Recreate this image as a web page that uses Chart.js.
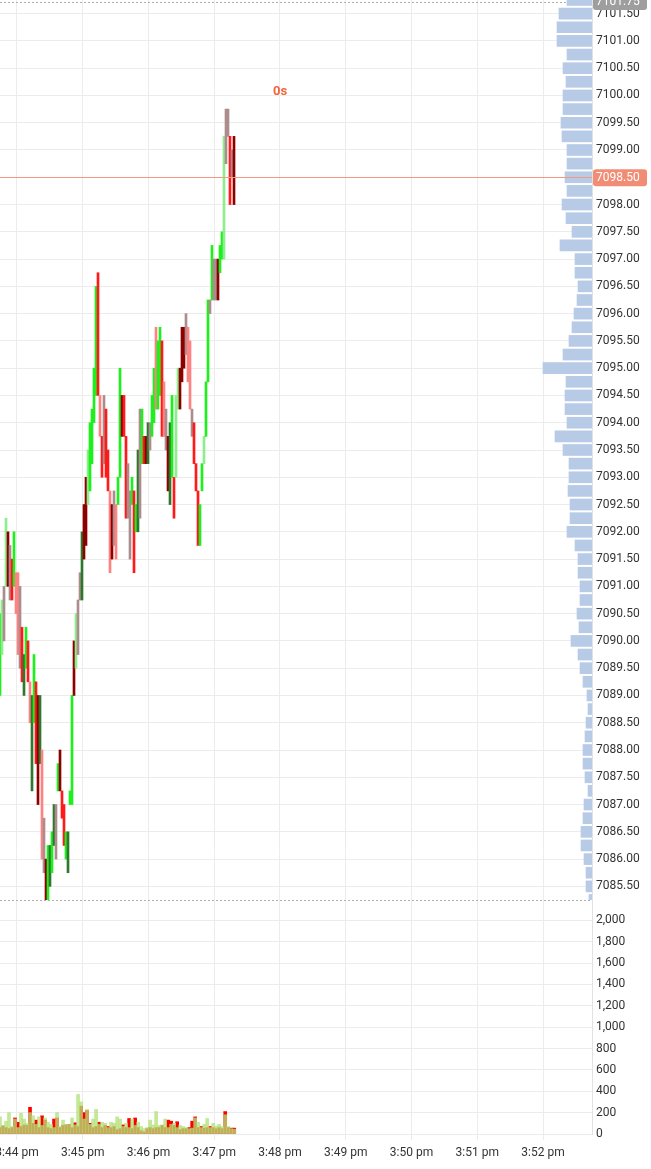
<!DOCTYPE html>
<html lang="en">
<head>
<meta charset="UTF-8">
<title>Tick chart</title>
<script src="https://cdn.jsdelivr.net/npm/chart.js"></script>
<style>
  html, body { margin: 0; padding: 0; background: #fff; }
  .wrap { width: 651px; height: 1169px; position: relative; }
</style>
</head>
<body>
<div class="wrap"><canvas id="chart"></canvas></div>
<script>
// times are seconds after 3:44:00 pm
const startSec = -15.5;
const candleStep = 1.825;
const volStep = 2.74;
const xMin = -15.5, xMax = 524.7;
const timeTicks = [0, 60, 120, 180, 240, 300, 360, 420, 480];

const priceMin = 7085.25, priceMax = 7101.75;
const lastPrice = 7098.50;
const volMax = 2190;
const volTicks = [0, 200, 400, 600, 800, 1000, 1200, 1400, 1600, 1800, 2000];

// candle lows / highs, one per tick bar
const lows = [
  7089.00, 7089.75, 7090.00, 7091.00, 7091.00, 7090.75, 7090.75, 7091.00, 7090.50, 7089.75,
  7089.50, 7089.25, 7089.00, 7089.50, 7089.25, 7088.50, 7087.25, 7088.50, 7087.75, 7087.00,
  7087.75, 7086.00, 7085.75, 7085.25, 7085.25, 7085.50, 7085.75, 7086.25, 7086.00, 7087.25,
  7087.25, 7086.75, 7086.25, 7086.00, 7085.75, 7087.00, 7087.00, 7089.00, 7089.50, 7089.75,
  7090.75, 7090.75, 7091.50, 7091.75, 7092.50, 7092.75, 7093.25, 7094.00, 7094.50, 7094.50,
  7093.75, 7093.00, 7093.25, 7093.00, 7092.75, 7091.25, 7091.50, 7091.75, 7091.50, 7092.50,
  7093.00, 7093.75, 7093.75, 7092.25, 7092.25, 7091.50, 7092.50, 7091.25, 7092.00, 7092.00,
  7092.25, 7093.25, 7093.25, 7093.25, 7093.25, 7093.50, 7093.75, 7094.00, 7094.25, 7094.25,
  7094.50, 7093.75, 7093.75, 7093.50, 7092.75, 7092.50, 7093.00, 7092.25, 7093.00, 7094.25,
  7094.25, 7094.75, 7095.00, 7095.25, 7094.75, 7094.25, 7093.75, 7093.25, 7092.75, 7091.75,
  7091.75, 7092.75, 7093.25, 7093.75, 7094.75, 7096.00, 7096.25, 7096.25, 7096.25, 7096.25,
  7096.75, 7097.00, 7097.00, 7098.75, 7099.25, 7098.00, 7098.50, 7098.00
];
const highs = [
  7090.50, 7090.75, 7091.00, 7092.25, 7092.00, 7091.75, 7091.50, 7092.00, 7091.25, 7091.25,
  7091.00, 7090.25, 7089.75, 7090.25, 7090.00, 7089.25, 7089.00, 7089.75, 7089.25, 7089.00,
  7089.00, 7088.00, 7086.75, 7086.00, 7086.25, 7086.25, 7086.50, 7087.00, 7087.00, 7087.75,
  7088.00, 7087.25, 7087.00, 7086.50, 7086.50, 7087.25, 7089.00, 7090.00, 7090.50, 7090.75,
  7091.25, 7092.00, 7092.50, 7093.00, 7093.50, 7094.00, 7094.25, 7095.00, 7096.50, 7096.75,
  7094.50, 7093.75, 7094.50, 7094.25, 7093.50, 7092.75, 7092.50, 7092.75, 7092.50, 7093.00,
  7095.00, 7094.50, 7094.50, 7093.75, 7093.25, 7092.75, 7093.00, 7092.75, 7092.50, 7093.50,
  7094.25, 7094.25, 7093.75, 7093.75, 7094.00, 7094.00, 7094.50, 7095.00, 7095.75, 7095.50,
  7095.75, 7095.50, 7094.75, 7094.25, 7093.75, 7094.00, 7094.50, 7093.00, 7094.50, 7095.00,
  7095.00, 7095.75, 7095.75, 7096.00, 7095.75, 7095.50, 7094.25, 7094.00, 7093.25, 7092.75,
  7092.50, 7093.25, 7093.75, 7094.75, 7096.25, 7096.25, 7097.25, 7097.00, 7097.00, 7097.00,
  7097.25, 7097.50, 7099.25, 7099.75, 7099.75, 7099.25, 7099.00, 7099.25
];
// g bright up, l light up, d dark up, r down, p light down, k dark down, n mixed
const kinds =
  'glnlknrgpp' + 'nrdgrpdgrk' + 'dpnkgdgdng' + 'krrgdggkln' + 'ndkklggggr' +
  'prnrrpknpg' + 'gkrrnngrgd' + 'ngrkdnggpg' + 'grpnkdgrll' + 'kkknppnrrr' +
  'gglggngnnk' + 'gglnnrnk';

// volume below the price pane
const buyVol = [
  160, 80, 120, 200, 70, 140, 60, 195, 140, 100,
  200, 170, 90, 160, 80, 150, 110, 90, 60, 200,
  70, 130, 90, 90, 150, 85, 370, 300, 140, 230,
  90, 140, 230, 90, 110, 100, 60, 110, 100, 160,
  140, 70, 100, 60, 140, 80, 110, 70, 50, 60,
  130, 85, 210, 80, 85, 140, 60, 90, 100, 60,
  80, 70, 60, 50, 55, 150, 110, 60, 90, 145,
  60, 100, 75, 90, 70, 180, 70, 50, 45
];
const sellVol = [
  60, 75, 60, 50, 60, 150, 110, 70, 85, 80,
  250, 100, 130, 60, 170, 130, 60, 50, 140, 150,
  60, 80, 85, 90, 60, 105, 70, 260, 200, 220,
  100, 60, 70, 110, 60, 80, 70, 60, 70, 40,
  50, 85, 60, 145, 50, 150, 60, 30, 20, 50,
  60, 50, 60, 60, 80, 60, 130, 120, 80, 115,
  40, 50, 50, 60, 120, 160, 60, 70, 55, 60,
  70, 60, 50, 60, 50, 210, 60, 55, 55
];

// volume profile, from 7101.75 down in 0.25 steps
const profileTop = 7101.75;
const profileVol = [
  250, 330, 350, 350, 250, 290, 260, 290, 290, 310,
  300, 250, 250, 270, 250, 300, 260, 200, 320, 170,
  170, 140, 150, 180, 200, 230, 290, 490, 260, 270,
  270, 250, 370, 290, 230, 230, 240, 220, 220, 250,
  170, 140, 140, 120, 120, 150, 130, 210, 140, 120,
  90, 50, 40, 60, 70, 90, 90, 70, 40, 80,
  90, 110, 110, 80, 60, 60, 30
];

const palette = {
  g: 'rgb(30,240,30)',
  l: 'rgb(140,238,140)',
  d: 'rgb(45,120,45)',
  r: 'rgb(255,25,25)',
  p: 'rgb(255,130,130)',
  k: 'rgb(140,0,0)',
  n: 'rgb(172,140,140)'
};

const candleTimes = lows.map((_, i) => startSec + i * candleStep);
const volTimes = buyVol.map((_, i) => startSec + i * volStep);
const priceTicks = [];
for (let p = 7085.5; p <= 7101.5; p += 0.5) priceTicks.push(p);

const fmtTime = v => '3:' + String(44 + Math.round(v / 60)).padStart(2, '0') + ' pm';

Chart.defaults.font.family = 'Roboto';
Chart.defaults.font.size = 12;
Chart.defaults.color = '#333';

function roundBox(ctx, x, y, w, h, r) {
  ctx.beginPath();
  ctx.moveTo(x + r, y);
  ctx.lineTo(x + w - r, y);
  ctx.quadraticCurveTo(x + w, y, x + w, y + r);
  ctx.lineTo(x + w, y + h - r);
  ctx.quadraticCurveTo(x + w, y + h, x + w - r, y + h);
  ctx.lineTo(x + r, y + h);
  ctx.quadraticCurveTo(x, y + h, x, y + h - r);
  ctx.lineTo(x, y + r);
  ctx.quadraticCurveTo(x, y, x + r, y);
  ctx.closePath();
}

const overlay = {
  id: 'overlay',
  beforeDatasetsDraw(chart) {
    const {ctx, chartArea} = chart;
    const yP = chart.scales.yPrice;
    ctx.save();
    // dotted pane borders
    ctx.strokeStyle = '#b0b0b0';
    ctx.lineWidth = 1;
    ctx.setLineDash([2, 2]);
    const yb = Math.round(yP.bottom) + 0.5;
    ctx.beginPath();
    ctx.moveTo(chartArea.left, yb);
    ctx.lineTo(chartArea.right, yb);
    ctx.moveTo(chartArea.left, 2.5);
    ctx.lineTo(chartArea.right, 2.5);
    ctx.stroke();
    ctx.restore();
  },
  afterDatasetsDraw(chart) {
    const {ctx, chartArea} = chart;
    const yP = chart.scales.yPrice;
    // last price line
    const yl = Math.round(yP.getPixelForValue(lastPrice)) + 0.5;
    ctx.save();
    ctx.strokeStyle = 'rgb(244,152,128)';
    ctx.lineWidth = 1;
    ctx.beginPath();
    ctx.moveTo(chartArea.left, yl);
    ctx.lineTo(chartArea.right, yl);
    ctx.stroke();
    ctx.restore();
  },
  afterDraw(chart) {
    const {ctx, chartArea} = chart;
    const yP = chart.scales.yPrice;
    const x0 = chartArea.right + 1;
    ctx.save();
    ctx.font = '12px Roboto';
    ctx.textBaseline = 'middle';
    ctx.textAlign = 'left';
    // session high tag
    const yh = 2;
    ctx.fillStyle = '#9e9e9e';
    roundBox(ctx, x0, yh - 8, 54, 16, 3);
    ctx.fill();
    ctx.fillStyle = '#fff';
    ctx.fillText(priceMax.toFixed(2), x0 + 3, yh);
    // last price tag
    const yl = yP.getPixelForValue(lastPrice);
    ctx.fillStyle = '#f28d75';
    roundBox(ctx, x0, yl - 8, 54, 17, 3);
    ctx.fill();
    ctx.fillStyle = '#fff';
    ctx.fillText(lastPrice.toFixed(2), x0 + 3, yl + 0.5);
    // bar countdown
    ctx.font = 'bold 13px Roboto';
    ctx.fillStyle = '#f2643a';
    ctx.textAlign = 'center';
    ctx.fillText('0s', chart.scales.x.getPixelForValue(240), yP.getPixelForValue(7100.0) - 4);
    ctx.restore();
  }
};

new Chart(document.getElementById('chart'), {
  data: {
    datasets: [
      {
        type: 'bar',
        label: 'Price',
        xAxisID: 'x',
        yAxisID: 'yPrice',
        data: lows.map((lo, i) => ({x: candleTimes[i], y: [lo, highs[i]]})),
        backgroundColor: kinds.split('').map(k => palette[k]),
        barThickness: 2,
        grouped: false,
        order: 1
      },
      {
        type: 'bar',
        label: 'Buy volume',
        xAxisID: 'x',
        yAxisID: 'yVol',
        data: buyVol.map((v, i) => ({x: volTimes[i], y: v})),
        backgroundColor: 'rgba(177,225,118,0.77)',
        barThickness: 3,
        grouped: false,
        order: 2
      },
      {
        type: 'bar',
        label: 'Sell volume',
        xAxisID: 'x',
        yAxisID: 'yVol',
        data: sellVol.map((v, i) => ({x: volTimes[i], y: v})),
        backgroundColor: 'rgb(255,0,0)',
        barThickness: 3,
        grouped: false,
        order: 3
      },
      {
        type: 'bar',
        label: 'Volume profile',
        indexAxis: 'y',
        xAxisID: 'xProf',
        yAxisID: 'yPrice',
        data: profileVol.map((v, i) => ({x: v, y: profileTop - i * 0.25})),
        backgroundColor: 'rgb(183,202,230)',
        barThickness: 11,
        grouped: false,
        order: 4
      }
    ]
  },
  options: {
    responsive: true,
    maintainAspectRatio: false,
    animation: false,
    events: [],
    layout: { padding: 0 },
    plugins: { legend: { display: false }, tooltip: { enabled: false } },
    scales: {
      x: {
        type: 'linear',
        position: 'bottom',
        offset: false,
        min: xMin,
        max: xMax,
        afterBuildTicks: s => { s.ticks = timeTicks.map(v => ({value: v})); },
        ticks: {
          autoSkip: false,
          maxRotation: 0,
          padding: 6,
          callback: v => fmtTime(v)
        },
        grid: { color: '#ececec', tickLength: 6, offset: false },
        border: { display: false },
        afterFit: s => { s.height = 35; s.paddingLeft = 0; s.paddingRight = 0; }
      },
      xProf: {
        type: 'linear',
        axis: 'x',
        display: false,
        offset: false,
        reverse: true,
        min: 0,
        max: 5920
      },
      yPrice: {
        type: 'linear',
        position: 'right',
        stack: 'main',
        stackWeight: 900,
        offset: false,
        min: priceMin,
        max: priceMax,
        afterBuildTicks: s => { s.ticks = priceTicks.map(v => ({value: v})); },
        ticks: {
          autoSkip: false,
          padding: 4,
          callback: v => v.toFixed(2)
        },
        grid: { color: '#ececec', drawTicks: false, offset: false },
        border: { display: true, color: '#e2e2e2' },
        afterFit: s => { s.width = 59; s.paddingTop = 0; s.paddingBottom = 0; }
      },
      yVol: {
        type: 'linear',
        position: 'right',
        stack: 'main',
        stackWeight: 234,
        offset: false,
        min: 0,
        max: volMax,
        afterBuildTicks: s => { s.ticks = volTicks.map(v => ({value: v})); },
        ticks: {
          autoSkip: false,
          padding: 4,
          callback: v => v.toLocaleString('en-US')
        },
        grid: { color: '#ececec', drawTicks: false },
        border: { display: true, color: '#e2e2e2' },
        afterFit: s => { s.width = 59; s.paddingTop = 0; s.paddingBottom = 0; }
      }
    }
  },
  plugins: [overlay]
});
</script>
</body>
</html>
